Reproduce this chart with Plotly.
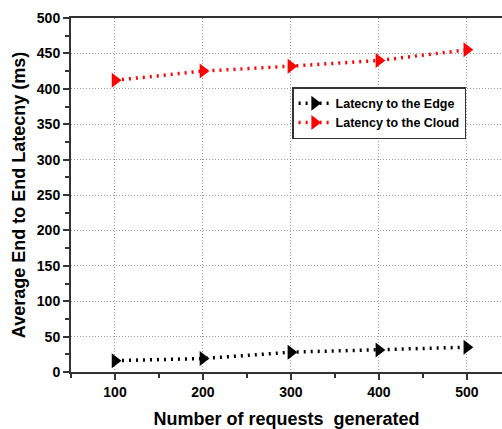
import plotly.graph_objects as go

requests = [100, 200, 300, 400, 500]
edge_latency = [16, 19, 28, 31, 35]
cloud_latency = [412, 425, 432, 440, 455]
series_names = ["Latecny to the Edge", "Latency to the Cloud"]

FONT = "Arial, Liberation Sans, sans-serif"

fig = go.Figure()
fig.add_trace(go.Scatter(
    x=requests, y=edge_latency, name=series_names[0], mode="lines+markers",
    line=dict(color="black", width=3.5, dash="2px,5px"),
    marker=dict(symbol="triangle-right", size=13, color="black"),
))
fig.add_trace(go.Scatter(
    x=requests, y=cloud_latency, name=series_names[1], mode="lines+markers",
    line=dict(color="red", width=3.5, dash="2px,5px"),
    marker=dict(symbol="triangle-right", size=13, color="red"),
))

fig.update_layout(
    width=502, height=429,
    margin=dict(l=71, r=0, t=18, b=57),
    paper_bgcolor="white", plot_bgcolor="white",
    font=dict(family=FONT, color="black"),
    showlegend=True,
    legend=dict(
        x=0.513, y=0.805, xanchor="left", yanchor="top",
        bgcolor="white", bordercolor="#333333", borderwidth=1.5,
        font=dict(family=FONT, size=12.5, color="black", weight="bold"),
        tracegroupgap=0, itemwidth=32,
    ),
)
fig.update_xaxes(
    range=[50, 540], tickvals=requests,
    showline=True, linecolor="#333333", linewidth=2, mirror=True,
    ticks="outside", ticklen=6, tickwidth=1.5, tickcolor="#333333",
    minor=dict(dtick=50, tick0=50, ticks="outside", ticklen=4, tickwidth=1.5, tickcolor="#333333", showgrid=False),
    showgrid=True, gridcolor="#999999", griddash="1px,2px", gridwidth=1,
    zeroline=False,
    tickfont=dict(family=FONT, size=14, weight="bold"),
    title=dict(text="Number of requests  generated", font=dict(family=FONT, size=18, weight="bold"), standoff=16),
)
fig.update_yaxes(
    range=[0, 500], dtick=50,
    showline=True, linecolor="#333333", linewidth=2,
    ticks="outside", ticklen=6, tickwidth=1.5, tickcolor="#333333",
    minor=dict(dtick=25, ticks="outside", ticklen=4, tickwidth=1.5, tickcolor="#333333", showgrid=False),
    showgrid=True, gridcolor="#999999", griddash="1px,2px", gridwidth=1,
    zeroline=False,
    tickfont=dict(family=FONT, size=14, weight="bold"),
    title=dict(text="Average End to End Latecny (ms)", font=dict(family=FONT, size=18, weight="bold"), standoff=7),
)

fig.write_html("out.html")
